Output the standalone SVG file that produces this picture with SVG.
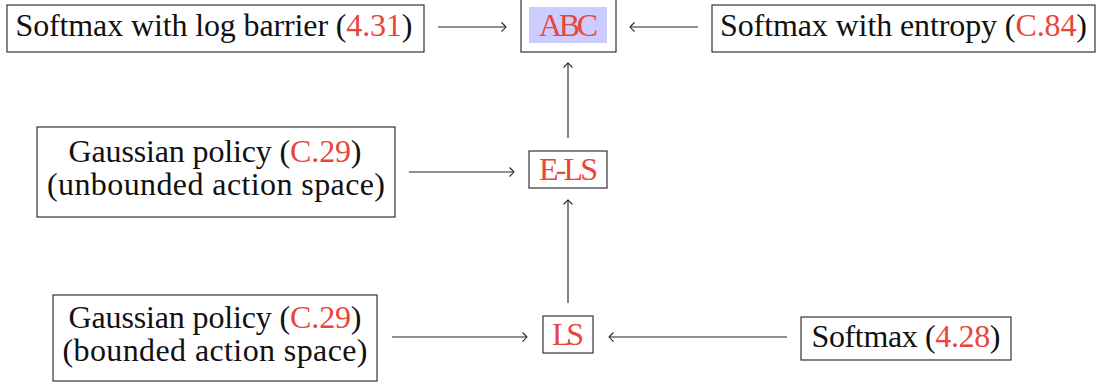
<svg xmlns="http://www.w3.org/2000/svg" width="1097" height="387" viewBox="0 0 1097 387">
<defs>
<style>
.box{fill:#fff;stroke:#333;stroke-width:1.2}
.lbl{font-family:"Liberation Serif","Times New Roman",serif;font-size:32px;fill:#111;text-anchor:middle}
.ref{fill:#e8453c}
.edge{stroke:#222;stroke-width:1.1;fill:none;marker-end:url(#to)}
</style>
<marker id="to" viewBox="-6 -5 8 10" markerWidth="8" markerHeight="10" refX="0" refY="0" orient="auto" markerUnits="userSpaceOnUse">
<path d="M-4.5,-4.5 Q-1,-1.2 0,0 Q-1,1.2 -4.5,4.5" fill="none" stroke="#222" stroke-width="1.1"/>
</marker>
</defs>
<g id="n-logbarrier">
<rect class="box" x="7" y="5" width="417" height="47"/>
<text class="lbl" x="214" y="36" textLength="397">Softmax with log barrier (<tspan class="ref">4.31</tspan>)</text>
</g>
<g id="n-abc">
<rect class="box" x="521" y="-2" width="95" height="54"/>
<rect x="529" y="7" width="78" height="36" fill="#ccccff"/>
<text class="lbl ref" x="568.5" y="36" textLength="59">ABC</text>
</g>
<g id="n-entropy">
<rect class="box" x="712" y="5" width="383" height="47"/>
<text class="lbl" x="903.5" y="36" textLength="367">Softmax with entropy (<tspan class="ref">C.84</tspan>)</text>
</g>
<g id="n-gauss-unbounded">
<rect class="box" x="37" y="127" width="358" height="90"/>
<text class="lbl" x="215" y="162" textLength="293">Gaussian policy (<tspan class="ref">C.29</tspan>)</text>
<text class="lbl" x="216" y="195" textLength="338">(unbounded action space)</text>
</g>
<g id="n-els">
<rect class="box" x="529" y="151" width="78" height="37"/>
<text class="lbl ref" x="568.5" y="180" textLength="59">E-LS</text>
</g>
<g id="n-gauss-bounded">
<rect class="box" x="53" y="295" width="324" height="86"/>
<text class="lbl" x="215" y="328" textLength="293">Gaussian policy (<tspan class="ref">C.29</tspan>)</text>
<text class="lbl" x="215" y="361" textLength="305">(bounded action space)</text>
</g>
<g id="n-ls">
<rect class="box" x="543" y="316" width="50" height="37"/>
<text class="lbl ref" x="568" y="345" textLength="32">LS</text>
</g>
<g id="n-softmax">
<rect class="box" x="801" y="317" width="210" height="43"/>
<text class="lbl" x="906" y="347" textLength="189">Softmax (<tspan class="ref">4.28</tspan>)</text>
</g>
<g id="connectors">
<line class="edge" x1="438" y1="27" x2="506" y2="27"/>
<line class="edge" x1="698" y1="27" x2="630" y2="27"/>
<line class="edge" x1="568" y1="138" x2="568" y2="63"/>
<line class="edge" x1="409" y1="172" x2="514" y2="172"/>
<line class="edge" x1="568" y1="303" x2="568" y2="200"/>
<line class="edge" x1="392" y1="337" x2="527" y2="337"/>
<line class="edge" x1="787" y1="337" x2="609" y2="337"/>
</g>
</svg>
